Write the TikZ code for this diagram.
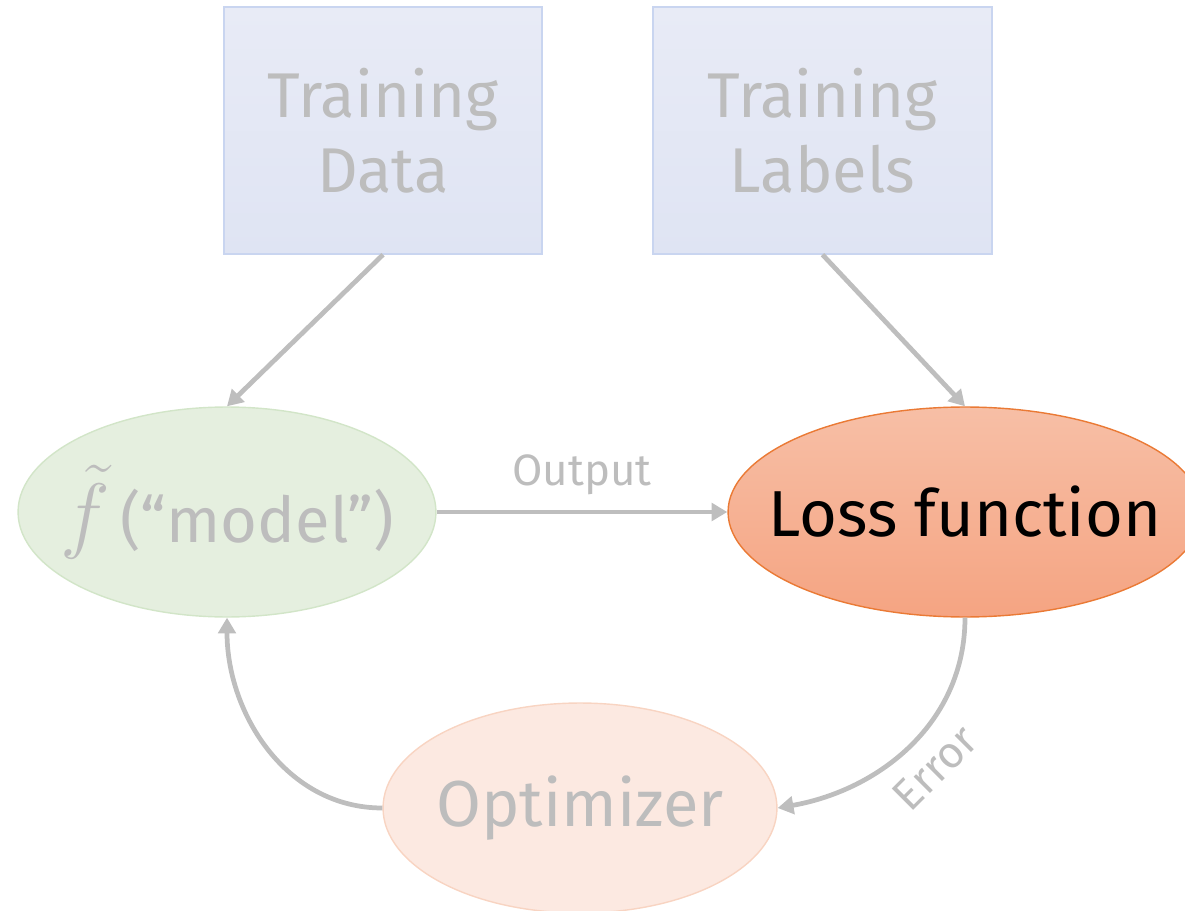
\documentclass[tikz,border=0pt]{standalone}
\usepackage{fix-cm}
\usepackage{fontspec}
\setmainfont{Fira Sans}
\usetikzlibrary{shapes.geometric,arrows.meta}
\definecolor{txtgray}{HTML}{BDBDBD}
\definecolor{arrgray}{HTML}{BEBEBE}
\definecolor{boxtop}{HTML}{E8EBF6}
\definecolor{boxbot}{HTML}{DFE4F3}
\definecolor{boxline}{HTML}{C9D5F0}
\definecolor{modfill}{HTML}{E5EFDF}
\definecolor{modline}{HTML}{D2E5C8}
\definecolor{losstop}{HTML}{F7BFA6}
\definecolor{lossbot}{HTML}{F5A482}
\definecolor{lossline}{HTML}{EA7A35}
\definecolor{optfill}{HTML}{FCE9E1}
\definecolor{optline}{HTML}{F8D4C2}
\tikzset{
  databox/.style={draw=boxline, line width=0.8pt, top color=boxtop, bottom color=boxbot,
    minimum height=4.94cm, inner sep=0pt, align=center, text=txtgray,
    font=\fontsize{36}{42.5}\selectfont},
  ellnode/.style={ellipse, inner sep=0pt, line width=0.8pt},
  conn/.style={draw=arrgray, line width=2.7pt, -{Triangle[length=9pt,width=10pt]}},
  lbl/.style={text=txtgray, font=\fontsize{25}{30}\selectfont}
}
\begin{document}
\begin{tikzpicture}[x=0.02cm,y=-0.02cm]
\useasboundingbox (0,0) rectangle (1185,911);
\node[databox, minimum width=6.36cm] (td) at (383,130.5) {Training\\Data};
\node[databox, minimum width=6.78cm] (tl) at (822.5,130.5) {Training\\Labels};
\node[ellnode, draw=modline, fill=modfill, minimum width=8.36cm, minimum height=4.2cm,
  text=txtgray, font=\fontsize{36}{44}\selectfont] (model) at (227,512)
  {\makebox[0pt]{{\fontsize{48}{52}\selectfont$\tilde{f}$}\,(“model”)}};
\node[ellnode, draw=lossline, top color=losstop, bottom color=lossbot, minimum width=9.48cm,
  minimum height=4.2cm, text=black, font=\fontsize{37}{44}\selectfont] (loss) at (965,512)
  {\makebox[0pt]{Loss function}};
\node[ellnode, draw=optline, fill=optfill, minimum width=7.88cm, minimum height=4.2cm,
  text=txtgray, font=\fontsize{37}{44}\selectfont] (opt) at (580,808)
  {\makebox[0pt]{Optimizer}};
\draw[conn] (td.south) -- (model.north);
\draw[conn] (tl.south) -- (loss.north);
\draw[conn] (model.east) -- node[lbl, above=5pt] (outl) {Output} (loss.west);
\draw[conn] (loss.south) to[out=-90, in=10] (opt.east);
\node[lbl, rotate=45] (errl) at (935,768) {Error};
\draw[conn] (opt.west) to[out=180, in=-90] (model.south);
\end{tikzpicture}
\end{document}
